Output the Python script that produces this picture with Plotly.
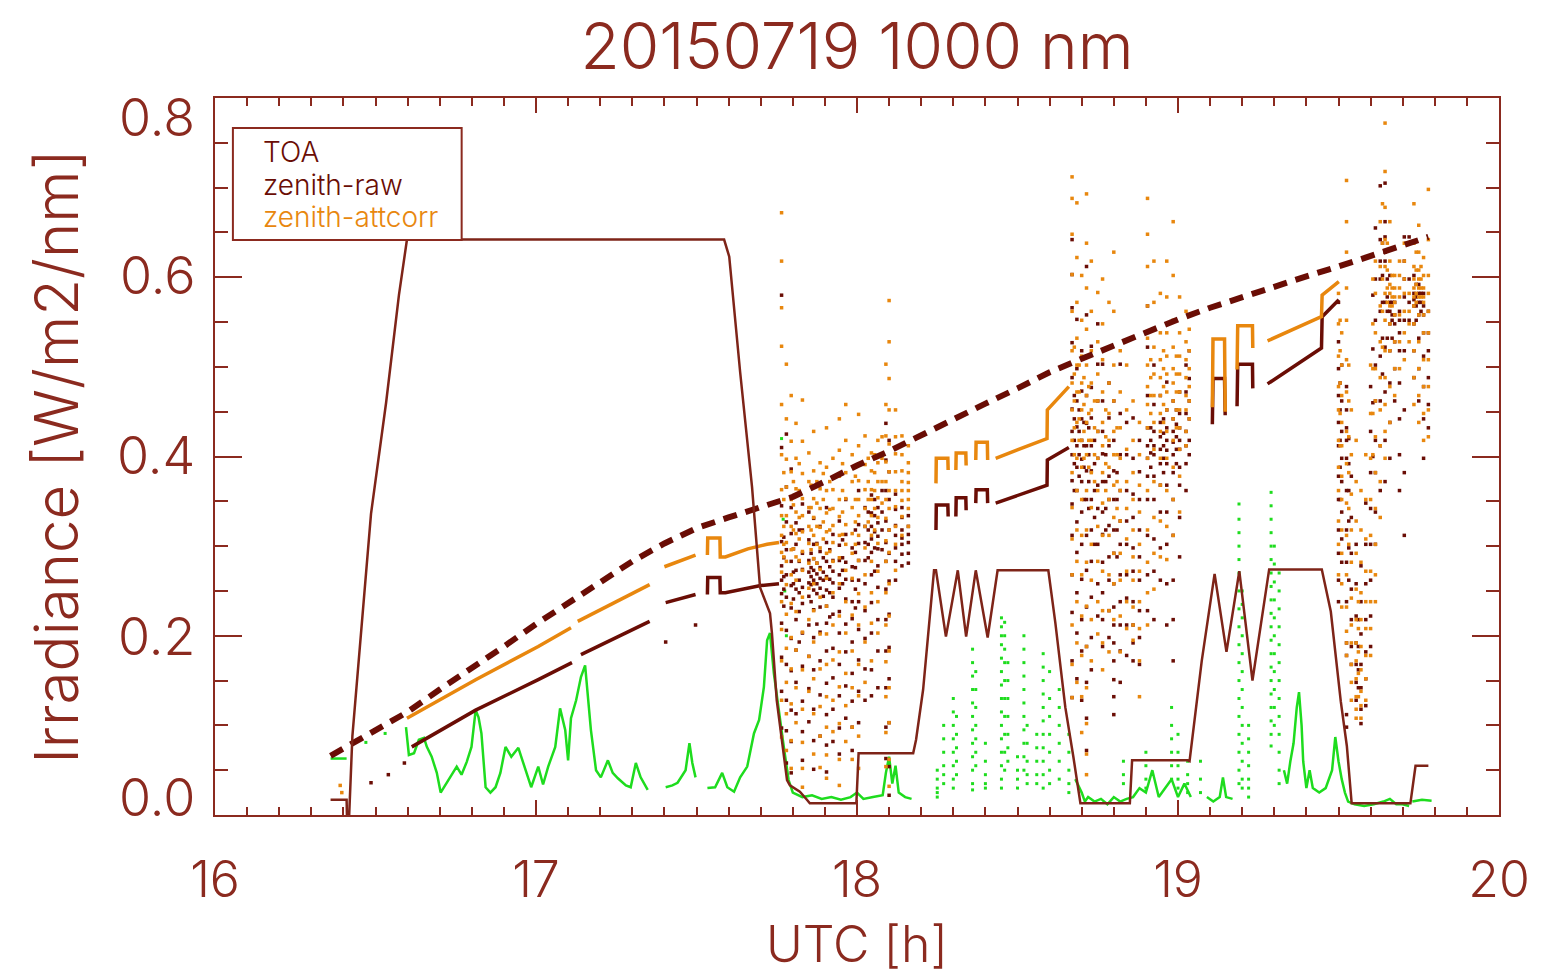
import plotly.graph_objects as go

# ---------------- data ----------------
toa_t = [16.36, 16.45, 16.55, 16.60, 16.70, 16.80, 16.90, 17.00, 17.10, 17.20, 17.30, 17.40,
         17.50, 17.60, 17.70, 17.80, 17.90, 18.00, 18.10, 18.20, 18.30, 18.40, 18.50, 18.60,
         18.70, 18.80, 18.90, 19.00, 19.10, 19.20, 19.30, 19.40, 19.50, 19.60, 19.70, 19.78]
toa_v = [0.066, 0.085, 0.105, 0.115, 0.140, 0.163, 0.188, 0.213, 0.237, 0.260, 0.283, 0.303,
         0.320, 0.332, 0.343, 0.355, 0.372, 0.390, 0.406, 0.424, 0.441, 0.459, 0.476, 0.494,
         0.509, 0.524, 0.539, 0.553, 0.566, 0.578, 0.590, 0.601, 0.612, 0.624, 0.636, 0.645]

# zenith-raw: continuous stretches (None = gap)
raw_line_t = [16.613, 16.812, 17.007, 17.112, None,
              17.14, 17.354, None,
              17.404, 17.497, None,
              17.534, 17.535, 17.573, 17.574, 17.59, 17.70, 17.757, None,
              18.246, 18.247, 18.283, 18.284, None,
              18.308, 18.309, 18.339, 18.340, None,
              18.370, 18.371, 18.406, 18.407, None,
              18.432, 18.592, 18.593, 18.66, None,
              19.107, 19.109, 19.145, 19.147, None,
              19.184, 19.186, 19.232, 19.233, None,
              19.279, 19.447, 19.449, 19.501]
raw_line_v = [0.076, 0.117, 0.151, 0.170, None,
              0.179, 0.216, None,
              0.237, 0.246, None,
              0.246, 0.265, 0.265, 0.248, 0.248, 0.256, 0.258, None,
              0.318, 0.346, 0.346, 0.333, None,
              0.333, 0.354, 0.354, 0.340, None,
              0.348, 0.363, 0.363, 0.348, None,
              0.348, 0.368, 0.396, 0.410, None,
              0.436, 0.487, 0.487, 0.446, None,
              0.456, 0.503, 0.503, 0.476, None,
              0.481, 0.521, 0.556, 0.575]

# zenith-raw: scattered samples, grouped in columns (time, values)
raw_col_t = [16.486, 16.54, 16.59, 17.404, 17.497,
             17.765, 17.78, 17.795, 17.81, 17.83, 17.85, 17.865, 17.885, 17.905, 17.925,
             17.945, 17.965, 17.985, 18.005, 18.025, 18.045, 18.065, 18.09, 18.10, 18.12,
             18.14, 18.16,
             18.67, 18.685, 18.70, 18.715, 18.73, 18.75, 18.765, 18.785, 18.80, 18.82,
             18.84, 18.86, 18.88, 18.905, 18.925, 18.945, 18.965, 18.985, 19.005, 19.025, 19.035,
             19.50, 19.51, 19.525, 19.54, 19.555, 19.57, 19.585, 19.60, 19.615, 19.63,
             19.645, 19.66, 19.675, 19.69, 19.705, 19.72, 19.735, 19.75, 19.765, 19.78]
raw_col_v = [
    [0.036], [0.045], [0.058], [0.193], [0.212],
    [0.58, 0.41, 0.345, 0.305, 0.278, 0.262, 0.247, 0.214, 0.176, 0.138, 0.097],
    [0.425, 0.366, 0.327, 0.296, 0.268, 0.243, 0.206, 0.168, 0.128, 0.094, 0.058],
    [0.386, 0.343, 0.314, 0.283, 0.256, 0.231, 0.197, 0.161, 0.117, 0.082, 0.047],
    [0.357, 0.326, 0.302, 0.273, 0.252, 0.218, 0.184, 0.148, 0.113],
    [0.347, 0.318, 0.292, 0.274, 0.254, 0.236, 0.203, 0.166, 0.127, 0.093, 0.061],
    [0.338, 0.307, 0.284, 0.271, 0.259, 0.244, 0.212, 0.177, 0.141, 0.104],
    [0.331, 0.302, 0.286, 0.273, 0.262, 0.251, 0.229, 0.198, 0.162, 0.118, 0.083, 0.051],
    [0.322, 0.294, 0.276, 0.264, 0.253, 0.232, 0.204, 0.172, 0.134, 0.088],
    [0.343, 0.304, 0.283, 0.266, 0.251, 0.233, 0.214, 0.183, 0.147, 0.112, 0.078, 0.048],
    [0.313, 0.284, 0.272, 0.259, 0.243, 0.224, 0.186, 0.153, 0.118, 0.082],
    [0.328, 0.301, 0.284, 0.268, 0.253, 0.227, 0.203, 0.168, 0.133, 0.097, 0.068],
    [0.352, 0.313, 0.282, 0.263, 0.241, 0.213, 0.182, 0.144, 0.108],
    [0.298, 0.277, 0.262, 0.238, 0.219, 0.193, 0.158, 0.127, 0.098, 0.072],
    [0.362, 0.324, 0.303, 0.284, 0.262, 0.238, 0.207, 0.173, 0.138, 0.103],
    [0.343, 0.322, 0.304, 0.284, 0.258, 0.228, 0.197, 0.163, 0.128],
    [0.357, 0.337, 0.322, 0.308, 0.293, 0.268, 0.237, 0.203, 0.162, 0.133],
    [0.343, 0.326, 0.311, 0.297, 0.278, 0.254, 0.218, 0.183, 0.142],
    [0.437, 0.396, 0.362, 0.328, 0.304, 0.283, 0.252, 0.218, 0.183, 0.142, 0.098, 0.063],
    [0.418, 0.383, 0.352, 0.318, 0.292, 0.261, 0.224, 0.187, 0.152, 0.103, 0.054, 0.022],
    [0.358, 0.341, 0.323, 0.312, 0.298, 0.283, 0.262],
    [0.343, 0.332, 0.318, 0.309, 0.302, 0.291, 0.278],
    [0.334, 0.322, 0.313, 0.304, 0.292, 0.281],
    [0.642, 0.603, 0.566, 0.527, 0.488, 0.453, 0.428, 0.402, 0.373, 0.347, 0.312, 0.268, 0.226, 0.172, 0.131],
    [0.553, 0.498, 0.462, 0.433, 0.412, 0.388, 0.362, 0.327, 0.293, 0.248, 0.203, 0.152],
    [0.518, 0.473, 0.442, 0.418, 0.397, 0.372, 0.338, 0.302, 0.263, 0.218, 0.183, 0.128],
    [0.612, 0.558, 0.512, 0.468, 0.437, 0.412, 0.384, 0.352, 0.312, 0.273, 0.232, 0.188, 0.148, 0.108, 0.072],
    [0.523, 0.477, 0.443, 0.412, 0.384, 0.352, 0.318, 0.283, 0.243, 0.198, 0.162],
    [0.548, 0.503, 0.462, 0.428, 0.398, 0.368, 0.342, 0.302, 0.258, 0.222],
    [0.503, 0.462, 0.428, 0.403, 0.372, 0.338, 0.313, 0.282, 0.248, 0.218, 0.188],
    [0.482, 0.443, 0.412, 0.378, 0.352, 0.323, 0.288, 0.262, 0.228, 0.198],
    [0.462, 0.418, 0.384, 0.352, 0.318, 0.292, 0.258, 0.232, 0.212, 0.192, 0.172, 0.151, 0.132, 0.112],
    [0.503, 0.448, 0.402, 0.362, 0.328, 0.302, 0.268, 0.238, 0.212, 0.183, 0.148],
    [0.438, 0.402, 0.362, 0.328, 0.302, 0.268, 0.242, 0.212, 0.178],
    [0.443, 0.398, 0.358, 0.332, 0.298, 0.272, 0.238, 0.212, 0.192, 0.172],
    [0.418, 0.383, 0.352, 0.318, 0.288, 0.262, 0.228, 0.198, 0.168],
    [0.568, 0.522, 0.468, 0.432, 0.412, 0.398, 0.378, 0.352, 0.312, 0.268, 0.228],
    [0.502, 0.458, 0.428, 0.412, 0.402, 0.378, 0.352, 0.308, 0.272, 0.218],
    [0.468, 0.438, 0.422, 0.408, 0.392, 0.368, 0.338, 0.298, 0.262],
    [0.483, 0.452, 0.432, 0.418, 0.407, 0.392, 0.368, 0.338, 0.302, 0.258, 0.212],
    [0.462, 0.442, 0.428, 0.416, 0.402, 0.382, 0.352, 0.312, 0.262, 0.218, 0.172],
    [0.472, 0.448, 0.432, 0.418, 0.408, 0.388, 0.368, 0.332, 0.288],
    [0.502, 0.472, 0.448, 0.428, 0.412, 0.392, 0.362],
    [0.518, 0.487, 0.462, 0.442, 0.418, 0.402],
    [0.572, 0.528, 0.498, 0.468, 0.438, 0.412, 0.378, 0.352, 0.318, 0.292, 0.262, 0.238],
    [0.502, 0.462, 0.428, 0.398, 0.372, 0.338, 0.308, 0.282],
    [0.478, 0.452, 0.432, 0.418, 0.398, 0.362, 0.318, 0.282, 0.238, 0.192, 0.178, 0.112, 0.098],
    [0.378, 0.332, 0.292, 0.252, 0.218, 0.188, 0.168],
    [0.302, 0.258, 0.222, 0.192, 0.168, 0.148, 0.128],
    [0.278, 0.238, 0.202, 0.168, 0.142, 0.118, 0.102],
    [0.348, 0.302, 0.258, 0.218, 0.182, 0.152, 0.122],
    [0.478, 0.428, 0.382, 0.342, 0.302, 0.262, 0.222, 0.188],
    [0.655, 0.598, 0.552, 0.502, 0.462, 0.418, 0.382, 0.338, 0.302],
    [0.702, 0.642, 0.618, 0.598, 0.562, 0.512, 0.462, 0.412, 0.362],
    [0.705, 0.662, 0.645, 0.628, 0.618, 0.572, 0.522, 0.472, 0.418, 0.372],
    [0.602, 0.572, 0.562, 0.548, 0.518, 0.482, 0.438, 0.398],
    [0.572, 0.558, 0.548, 0.528, 0.498, 0.462],
    [0.562, 0.552, 0.538, 0.518, 0.482, 0.442, 0.402, 0.362],
    [0.645, 0.618, 0.598, 0.578, 0.552, 0.518, 0.452, 0.382, 0.312],
    [0.645, 0.598, 0.572, 0.552],
    [0.602, 0.582, 0.575, 0.568, 0.548, 0.518, 0.488],
    [0.592, 0.582, 0.572, 0.558, 0.532, 0.498, 0.462],
    [0.582, 0.568, 0.558, 0.538, 0.512, 0.478, 0.442, 0.398],
    [0.562, 0.538, 0.518, 0.488, 0.458, 0.432],
]
# zenith-raw: extra samples in the densest parts of the clouds
raw_fill_t = [17.772, 17.802, 17.82, 17.857, 17.875, 17.895, 17.915, 17.955, 17.995, 18.035,
              18.055, 18.078,
              18.677, 18.692, 18.707, 18.722, 18.74, 18.775, 18.81, 18.915, 18.955, 18.995,
              19.505, 19.532, 19.562, 19.607, 19.637, 19.652, 19.667, 19.742, 19.757]
raw_fill_v = [
    [0.31, 0.287, 0.266, 0.252, 0.233],
    [0.297, 0.271, 0.258, 0.241],
    [0.318, 0.283, 0.262, 0.248, 0.227, 0.193],
    [0.292, 0.276, 0.266, 0.257, 0.238],
    [0.303, 0.281, 0.269, 0.258, 0.247, 0.213],
    [0.287, 0.271, 0.262, 0.244],
    [0.296, 0.277, 0.263, 0.248, 0.221],
    [0.307, 0.287, 0.273, 0.258],
    [0.318, 0.293, 0.276, 0.252, 0.231],
    [0.338, 0.318, 0.302, 0.287],
    [0.352, 0.334, 0.316, 0.298, 0.272],
    [0.362, 0.338, 0.318, 0.296],
    [0.468, 0.442, 0.418, 0.392, 0.362],
    [0.452, 0.428, 0.402, 0.378],
    [0.438, 0.412, 0.388, 0.352],
    [0.432, 0.402, 0.372, 0.342],
    [0.418, 0.392, 0.362, 0.332, 0.302],
    [0.402, 0.372, 0.342, 0.318],
    [0.382, 0.352, 0.318, 0.288],
    [0.432, 0.418, 0.404, 0.388],
    [0.442, 0.426, 0.412, 0.398, 0.382],
    [0.452, 0.436, 0.422, 0.408, 0.392],
    [0.482, 0.452, 0.418, 0.388, 0.352],
    [0.42, 0.392, 0.362, 0.328, 0.298, 0.262],
    [0.218, 0.188, 0.162, 0.142],
    [0.58, 0.52, 0.46, 0.40],
    [0.638, 0.602, 0.572, 0.532, 0.492],
    [0.598, 0.578, 0.562, 0.532],
    [0.572, 0.558, 0.552, 0.532],
    [0.592, 0.578, 0.568, 0.552],
    [0.582, 0.572, 0.562],
]

# zenith-attcorr: continuous stretches
att_line_t = [16.598, 16.812, 17.007, 17.109, None,
              17.13, 17.354, None,
              17.40, 17.497, None,
              17.534, 17.535, 17.573, 17.574, 17.59, 17.66, 17.72, 17.757, None,
              18.246, 18.247, 18.283, 18.284, None,
              18.308, 18.309, 18.339, 18.340, None,
              18.370, 18.371, 18.406, 18.407, None,
              18.432, 18.592, 18.593, 18.66, None,
              19.107, 19.109, 19.145, 19.147, None,
              19.184, 19.186, 19.232, 19.233, None,
              19.279, 19.447, 19.449, 19.501]
att_line_v = [0.108, 0.151, 0.188, 0.209, None,
              0.216, 0.257, None,
              0.277, 0.290, None,
              0.290, 0.309, 0.309, 0.288, 0.288, 0.297, 0.302, 0.304, None,
              0.370, 0.398, 0.398, 0.385, None,
              0.385, 0.404, 0.404, 0.390, None,
              0.396, 0.416, 0.416, 0.396, None,
              0.398, 0.420, 0.452, 0.478, None,
              0.455, 0.531, 0.531, 0.450, None,
              0.497, 0.546, 0.546, 0.521, None,
              0.529, 0.556, 0.580, 0.595]

att_col_t = [16.39, 16.395,
             17.765, 17.78, 17.795, 17.81, 17.83, 17.85, 17.865, 17.885, 17.905, 17.925,
             17.945, 17.965, 17.985, 18.005, 18.025, 18.045, 18.065, 18.09, 18.10, 18.12,
             18.14, 18.16,
             18.67, 18.685, 18.70, 18.715, 18.73, 18.75, 18.765, 18.785, 18.80, 18.82,
             18.84, 18.86, 18.88, 18.905, 18.925, 18.945, 18.965, 18.985, 19.005, 19.025, 19.035,
             19.50, 19.51, 19.525, 19.54, 19.555, 19.57, 19.585, 19.60, 19.615, 19.63,
             19.645, 19.66, 19.675, 19.69, 19.705, 19.72, 19.735, 19.75, 19.765, 19.78]
att_col_v = [
    [0.033], [0.025],
    [0.672, 0.618, 0.566, 0.523, 0.458, 0.402, 0.363, 0.334, 0.312, 0.293, 0.271, 0.238, 0.207, 0.172, 0.128, 0.087],
    [0.503, 0.442, 0.397, 0.366, 0.334, 0.304, 0.283, 0.257, 0.224, 0.186, 0.148, 0.113, 0.072],
    [0.468, 0.417, 0.383, 0.352, 0.322, 0.296, 0.268, 0.236, 0.198, 0.163, 0.124, 0.083, 0.052],
    [0.437, 0.398, 0.364, 0.338, 0.314, 0.288, 0.262, 0.227, 0.184, 0.142, 0.103],
    [0.463, 0.417, 0.381, 0.353, 0.334, 0.316, 0.294, 0.273, 0.243, 0.204, 0.162, 0.118, 0.081, 0.052, 0.031],
    [0.404, 0.372, 0.343, 0.322, 0.303, 0.281, 0.253, 0.218, 0.177, 0.138],
    [0.428, 0.384, 0.353, 0.332, 0.312, 0.286, 0.258, 0.228, 0.193, 0.152, 0.113, 0.068],
    [0.393, 0.364, 0.342, 0.321, 0.298, 0.274, 0.243, 0.202, 0.163, 0.121, 0.088, 0.053],
    [0.432, 0.388, 0.362, 0.337, 0.316, 0.292, 0.264, 0.233, 0.202, 0.168, 0.132, 0.098, 0.067, 0.041],
    [0.398, 0.363, 0.342, 0.323, 0.304, 0.283, 0.248, 0.212, 0.173, 0.128, 0.093],
    [0.442, 0.407, 0.378, 0.352, 0.333, 0.312, 0.287, 0.258, 0.222, 0.182, 0.143, 0.102, 0.062, 0.033],
    [0.458, 0.418, 0.382, 0.353, 0.324, 0.302, 0.273, 0.238, 0.203, 0.158, 0.122, 0.082],
    [0.402, 0.372, 0.343, 0.314, 0.292, 0.264, 0.223, 0.183, 0.142, 0.098, 0.062],
    [0.447, 0.412, 0.373, 0.352, 0.334, 0.312, 0.284, 0.247, 0.212, 0.168, 0.133, 0.088, 0.052],
    [0.423, 0.391, 0.363, 0.342, 0.322, 0.298, 0.268, 0.232, 0.193, 0.148],
    [0.404, 0.384, 0.363, 0.352, 0.334, 0.312, 0.283, 0.248, 0.214, 0.172],
    [0.418, 0.393, 0.372, 0.354, 0.332, 0.303, 0.272, 0.238, 0.203],
    [0.503, 0.458, 0.423, 0.394, 0.372, 0.352, 0.331, 0.306, 0.283, 0.248, 0.212, 0.171, 0.132, 0.092, 0.054],
    [0.574, 0.528, 0.487, 0.452, 0.414, 0.383, 0.362, 0.342, 0.318, 0.293, 0.258, 0.222, 0.183, 0.142, 0.103, 0.062, 0.032],
    [0.452, 0.422, 0.403, 0.383, 0.362, 0.344, 0.322, 0.302, 0.273],
    [0.423, 0.402, 0.384, 0.372, 0.362, 0.351, 0.333, 0.312],
    [0.412, 0.393, 0.382, 0.371, 0.362, 0.352, 0.342, 0.322],
    [0.712, 0.688, 0.648, 0.603, 0.562, 0.518, 0.482, 0.452, 0.418, 0.382, 0.343, 0.308, 0.268, 0.212, 0.168, 0.131],
    [0.683, 0.622, 0.572, 0.532, 0.502, 0.472, 0.438, 0.398, 0.362, 0.318, 0.283, 0.238, 0.192, 0.148],
    [0.602, 0.552, 0.512, 0.482, 0.452, 0.418, 0.388, 0.352, 0.312, 0.268, 0.222, 0.178, 0.132, 0.092],
    [0.693, 0.638, 0.588, 0.542, 0.502, 0.468, 0.438, 0.402, 0.362, 0.318, 0.282, 0.233, 0.188, 0.142, 0.102, 0.068, 0.045],
    [0.618, 0.562, 0.518, 0.482, 0.452, 0.418, 0.382, 0.343, 0.302, 0.262, 0.218, 0.172],
    [0.583, 0.528, 0.492, 0.462, 0.428, 0.398, 0.362, 0.322, 0.283, 0.238, 0.202],
    [0.598, 0.548, 0.508, 0.472, 0.438, 0.412, 0.382, 0.348, 0.312, 0.272, 0.228, 0.192, 0.162],
    [0.572, 0.522, 0.482, 0.448, 0.418, 0.388, 0.352, 0.312, 0.268, 0.228, 0.182],
    [0.628, 0.562, 0.502, 0.462, 0.428, 0.402, 0.368, 0.332, 0.292, 0.258, 0.218],
    [0.518, 0.472, 0.432, 0.398, 0.362, 0.328, 0.292, 0.262, 0.222, 0.182],
    [0.502, 0.452, 0.408, 0.372, 0.342, 0.308, 0.272, 0.238, 0.208],
    [0.462, 0.418, 0.382, 0.352, 0.318, 0.288, 0.262, 0.232, 0.212, 0.195],
    [0.438, 0.402, 0.368, 0.338, 0.302, 0.272, 0.238, 0.208, 0.172, 0.132],
    [0.688, 0.648, 0.612, 0.568, 0.532, 0.502, 0.478, 0.458, 0.432, 0.398, 0.362, 0.318, 0.282, 0.248, 0.212],
    [0.618, 0.572, 0.522, 0.492, 0.468, 0.438, 0.408, 0.372, 0.332, 0.292, 0.252],
    [0.582, 0.538, 0.508, 0.488, 0.468, 0.448, 0.428, 0.398, 0.368, 0.328, 0.288],
    [0.618, 0.578, 0.538, 0.512, 0.492, 0.472, 0.452, 0.428, 0.398, 0.362, 0.322, 0.285],
    [0.662, 0.602, 0.552, 0.522, 0.498, 0.482, 0.462, 0.442, 0.418, 0.388, 0.352, 0.312],
    [0.578, 0.538, 0.512, 0.492, 0.472, 0.452, 0.432, 0.408, 0.378, 0.338],
    [0.562, 0.528, 0.508, 0.488, 0.468, 0.452, 0.428, 0.412],
    [0.542, 0.518, 0.498, 0.478, 0.462, 0.442],
    [0.582, 0.548, 0.512, 0.478, 0.452, 0.418, 0.388, 0.362, 0.328, 0.302, 0.268],
    [0.538, 0.502, 0.468, 0.438, 0.412, 0.378, 0.352, 0.318, 0.292, 0.258, 0.232],
    [0.708, 0.662, 0.628, 0.588, 0.552, 0.508, 0.472, 0.428, 0.392, 0.348, 0.312, 0.268, 0.232, 0.205, 0.192, 0.178],
    [0.452, 0.402, 0.358, 0.318, 0.282, 0.242, 0.212, 0.192, 0.168, 0.148, 0.128],
    [0.418, 0.372, 0.328, 0.292, 0.252, 0.218, 0.192, 0.172, 0.152, 0.132, 0.118, 0.108],
    [0.362, 0.318, 0.282, 0.248, 0.218, 0.188, 0.162, 0.138, 0.122, 0.108],
    [0.402, 0.352, 0.308, 0.272, 0.238, 0.208, 0.178, 0.152, 0.128],
    [0.502, 0.448, 0.398, 0.352, 0.312, 0.272, 0.238, 0.208, 0.178],
    [0.618, 0.582, 0.538, 0.498, 0.462, 0.422, 0.382, 0.342, 0.302, 0.268, 0.238],
    [0.662, 0.612, 0.568, 0.528, 0.488, 0.452, 0.412, 0.372, 0.332],
    [0.772, 0.718, 0.678, 0.642, 0.612, 0.582, 0.552, 0.518, 0.488, 0.458, 0.428, 0.398],
    [0.662, 0.618, 0.592, 0.582, 0.568, 0.548, 0.518, 0.478, 0.438],
    [0.602, 0.588, 0.578, 0.572, 0.558, 0.528, 0.498, 0.468],
    [0.618, 0.602, 0.588, 0.578, 0.558, 0.528, 0.498],
    [0.638, 0.618, 0.598, 0.582, 0.562, 0.538, 0.508],
    [0.582, 0.562, 0.548, 0.528],
    [0.682, 0.638, 0.612, 0.598, 0.588, 0.578, 0.568, 0.548, 0.518, 0.488, 0.458],
    [0.658, 0.628, 0.608, 0.598, 0.588, 0.578, 0.558, 0.528, 0.498, 0.468, 0.438],
    [0.622, 0.602, 0.588, 0.578, 0.572, 0.558, 0.538, 0.508, 0.478, 0.448, 0.418],
    [0.698, 0.642, 0.602, 0.582, 0.562, 0.538, 0.508, 0.478, 0.452, 0.422],
]
att_fill_t = [17.772, 17.802, 17.82, 17.857, 17.875, 17.895, 17.915, 17.955, 17.995, 18.035,
              18.055, 18.078,
              18.677, 18.692, 18.707, 18.722, 18.74, 18.775, 18.81, 18.915, 18.955, 18.995,
              19.505, 19.532, 19.562, 19.607, 19.637, 19.652, 19.667, 19.742, 19.757]
att_fill_v = [
    [0.382, 0.352, 0.322, 0.302, 0.288],
    [0.372, 0.346, 0.318, 0.297],
    [0.392, 0.362, 0.332, 0.308, 0.284],
    [0.368, 0.343, 0.318, 0.296],
    [0.372, 0.348, 0.322, 0.302, 0.281],
    [0.381, 0.352, 0.327, 0.308],
    [0.372, 0.341, 0.318, 0.294],
    [0.392, 0.362, 0.338, 0.313],
    [0.378, 0.352, 0.327, 0.302],
    [0.398, 0.372, 0.352, 0.327],
    [0.402, 0.382, 0.362, 0.342, 0.318],
    [0.422, 0.398, 0.372, 0.348],
    [0.522, 0.492, 0.462, 0.432, 0.402],
    [0.502, 0.472, 0.442, 0.418],
    [0.488, 0.458, 0.428, 0.398],
    [0.478, 0.448, 0.418, 0.388],
    [0.462, 0.432, 0.402, 0.372],
    [0.452, 0.422, 0.392, 0.362],
    [0.432, 0.402, 0.372, 0.342],
    [0.508, 0.488, 0.468, 0.448],
    [0.518, 0.498, 0.478, 0.458, 0.438],
    [0.512, 0.492, 0.472, 0.452, 0.432],
    [0.552, 0.518, 0.482, 0.448, 0.412],
    [0.502, 0.462, 0.422, 0.382, 0.342, 0.302],
    [0.238, 0.208, 0.182, 0.158, 0.132],
    [0.598, 0.548, 0.498, 0.448, 0.402],
    [0.682, 0.638, 0.598, 0.562, 0.522],
    [0.638, 0.608, 0.588, 0.572],
    [0.602, 0.588, 0.578, 0.568],
    [0.628, 0.608, 0.592, 0.582, 0.572],
    [0.612, 0.598, 0.588, 0.578],
]

# green (unlabelled) series: line part
green_t = [16.36, 16.41, None,
           16.595, 16.604, 16.62, 16.635, 16.651, 16.66, 16.675, 16.691, 16.703, 16.719,
           16.737, 16.753, 16.768, 16.784, 16.799, 16.812, 16.821, 16.83, 16.843, 16.858,
           16.874, 16.889, 16.905, 16.923, 16.945, 16.967, 16.985, 17.007, 17.022, 17.038,
           17.06, 17.075, 17.091, 17.10, 17.109, 17.125, 17.14, 17.153, 17.162, 17.171,
           17.187, 17.202, 17.224, 17.239, 17.255, 17.28, 17.295, 17.311, 17.326, 17.348, None,
           17.404, 17.425, 17.441, 17.466, 17.478, 17.487, 17.497, None,
           17.534, 17.558, 17.58, 17.596, 17.617, 17.636, 17.658, 17.679, 17.695, 17.71,
           17.72, 17.729, 17.741, 17.757, 17.772, 17.787, 17.80, 17.83, 17.86, 17.89, 17.92,
           17.95, 17.98, 18.00, 18.02, 18.05, 18.08, 18.09, 18.10, 18.11, 18.12, 18.13,
           18.15, 18.17, None,
           18.68, 18.70, 18.71, 18.72, 18.74, 18.76, 18.78, 18.80, 18.82, 18.84, 18.86,
           18.88, 18.90, 18.92, 18.94, 18.96, 18.98, 19.00, 19.02, 19.04, None,
           19.09, 19.11, 19.13, 19.14, 19.15, 19.17, None,
           19.33, 19.34, 19.35, 19.36, 19.37, 19.377, 19.385, 19.39, 19.40, 19.41, 19.42,
           19.44, 19.46, 19.48, 19.49, 19.50, 19.51, 19.52, 19.53, 19.55, 19.58, 19.61,
           19.64, 19.66, 19.68, 19.70, 19.72, None,
           19.73, 19.76, 19.79]
green_v = [0.063, 0.063, None,
           0.098, 0.067, 0.069, 0.084, 0.086, 0.076, 0.065, 0.047, 0.025, 0.034,
           0.045, 0.054, 0.045, 0.059, 0.076, 0.117, 0.109, 0.091, 0.031, 0.025,
           0.031, 0.047, 0.076, 0.065, 0.075, 0.050, 0.031, 0.054, 0.034, 0.054,
           0.076, 0.119, 0.095, 0.061, 0.108, 0.128, 0.154, 0.167, 0.128, 0.095,
           0.050, 0.042, 0.061, 0.047, 0.041, 0.033, 0.031, 0.058, 0.042, 0.028, None,
           0.031, 0.033, 0.036, 0.050, 0.080, 0.058, 0.042, None,
           0.030, 0.031, 0.047, 0.031, 0.026, 0.042, 0.054, 0.091, 0.106, 0.143,
           0.195, 0.203, 0.158, 0.114, 0.076, 0.039, 0.025, 0.020, 0.022, 0.018, 0.020,
           0.017, 0.020, 0.025, 0.018, 0.020, 0.022, 0.047, 0.065, 0.035, 0.055, 0.025,
           0.020, 0.018, None,
           0.040, 0.025, 0.015, 0.020, 0.015, 0.018, 0.012, 0.020, 0.015, 0.018, 0.020,
           0.030, 0.025, 0.050, 0.020, 0.030, 0.040, 0.020, 0.035, 0.020, None,
           0.020, 0.015, 0.020, 0.042, 0.020, 0.018, None,
           0.050, 0.035, 0.060, 0.080, 0.120, 0.137, 0.100, 0.060, 0.030, 0.050, 0.030,
           0.025, 0.030, 0.050, 0.087, 0.060, 0.040, 0.025, 0.015, 0.012, 0.010, 0.012,
           0.015, 0.018, 0.012, 0.012, 0.010, None,
           0.015, 0.017, 0.016]

# green: dotted columns
green_col_t = [16.47, 16.53, 17.765, 17.77, 17.775, 17.78,
               18.25, 18.27, 18.30, 18.31, 18.36, 18.37, 18.40, 18.45, 18.46, 18.47, 18.50,
               18.52, 18.53, 18.56, 18.58, 18.60, 18.63, 18.66, 18.83, 18.90, 18.98, 19.00,
               19.03, 19.07, 19.19, 19.20, 19.22, 19.29, 19.30, 19.315]
green_col_v = [
    [0.081], [0.091], [0.42], [0.33], [0.25], [0.20],
    [0.05, 0.04, 0.03, 0.025, 0.02],
    [0.10, 0.085, 0.07, 0.055, 0.045, 0.035],
    [0.13, 0.115, 0.10, 0.085, 0.07, 0.055, 0.04, 0.03],
    [0.11, 0.09, 0.075, 0.06, 0.045],
    [0.185, 0.17, 0.155, 0.14, 0.125, 0.11, 0.095, 0.08, 0.065, 0.05, 0.035, 0.028],
    [0.16, 0.14, 0.12, 0.10, 0.085, 0.07, 0.055],
    [0.08, 0.06, 0.045, 0.035, 0.03],
    [0.22, 0.21, 0.20, 0.19, 0.175, 0.16, 0.145, 0.13, 0.115, 0.10, 0.085, 0.07, 0.055, 0.04, 0.03],
    [0.215, 0.20, 0.185, 0.17, 0.15, 0.13, 0.11, 0.09, 0.07, 0.05],
    [0.17, 0.15, 0.13, 0.11, 0.09, 0.075, 0.06],
    [0.065, 0.05, 0.04, 0.03],
    [0.20, 0.185, 0.17, 0.155, 0.14, 0.125, 0.11, 0.095, 0.08, 0.065, 0.05],
    [0.10, 0.08, 0.06, 0.045, 0.035],
    [0.09, 0.075, 0.06, 0.045, 0.035],
    [0.18, 0.165, 0.15, 0.135, 0.12, 0.105, 0.09, 0.075, 0.06, 0.045, 0.03],
    [0.16, 0.13, 0.11, 0.09, 0.07, 0.05, 0.035],
    [0.14, 0.12, 0.10, 0.08, 0.06, 0.04],
    [0.09, 0.07, 0.05, 0.035, 0.025],
    [0.06, 0.045, 0.035],
    [0.07, 0.055, 0.04, 0.03],
    [0.12, 0.10, 0.085, 0.07, 0.055, 0.04],
    [0.09, 0.07, 0.055, 0.04, 0.03],
    [0.06, 0.045, 0.035, 0.025],
    [0.06, 0.04, 0.025],
    [0.347, 0.33, 0.315, 0.30, 0.285, 0.27, 0.25, 0.23, 0.21, 0.19, 0.17, 0.15, 0.13, 0.11, 0.09, 0.07, 0.05, 0.035],
    [0.25, 0.235, 0.22, 0.20, 0.18, 0.16, 0.14, 0.12, 0.10, 0.08, 0.06, 0.04, 0.03],
    [0.10, 0.085, 0.07, 0.055, 0.04, 0.03, 0.02],
    [0.36, 0.345, 0.33, 0.315, 0.30, 0.285, 0.27, 0.255, 0.24, 0.225, 0.21, 0.195, 0.18, 0.165, 0.15, 0.135, 0.12, 0.105, 0.09, 0.077],
    [0.30, 0.28, 0.26, 0.24, 0.22, 0.20, 0.18, 0.16, 0.14, 0.12, 0.10],
    [0.27, 0.25, 0.23, 0.21, 0.19, 0.17, 0.15, 0.13, 0.11, 0.09, 0.07, 0.05, 0.035],
]

# brown trapezoid-like trace
alt_t = [16.36, 16.41, 16.411, 16.418, 16.428, 16.486, 16.533, 16.573, 16.598, 17.586,
         17.602, 17.636, 17.673, 17.698, 17.729, 17.735, 17.75, 17.766, 17.782, 17.791,
         17.822, 17.844, 17.853, 17.998, 18.005, 18.175, 18.184, 18.206, 18.225, 18.24,
         18.246, 18.277, 18.314, 18.34, 18.37, 18.407, 18.438, 18.596, 18.618, 18.649,
         18.674, 18.696, 18.85, 18.857, 19.03, 19.036, 19.074, 19.114, 19.151, 19.191,
         19.232, 19.284, 19.448, 19.476, 19.507, 19.526, 19.541, 19.724, 19.74, 19.78]
alt_v = [0.017, 0.017, 0.0, 0.0, 0.088, 0.336, 0.46, 0.58, 0.642, 0.642,
         0.623, 0.494, 0.366, 0.254, 0.225, 0.203, 0.128, 0.084, 0.039, 0.033,
         0.026, 0.017, 0.013, 0.013, 0.069, 0.069, 0.084, 0.14, 0.214, 0.273,
         0.273, 0.199, 0.273, 0.199, 0.273, 0.198, 0.273, 0.273, 0.214, 0.12,
         0.065, 0.013, 0.013, 0.061, 0.061, 0.06, 0.172, 0.269, 0.182, 0.272,
         0.15, 0.274, 0.274, 0.227, 0.127, 0.077, 0.013, 0.013, 0.055, 0.055]

title_text = "20150719 1000 nm"
x_title = "UTC [h]"
y_title = "Irradiance [W/m2/nm]"
legend_names = ["TOA", "zenith-raw", "zenith-attcorr"]
x_ticks = [16, 17, 18, 19, 20]
y_ticks = [0.0, 0.2, 0.4, 0.6, 0.8]

# ---------------- style ----------------
AX = "#8B2A1F"
DARK = "#6A0D05"
ALT = "#7E2418"
ORANGE = "#E8870E"
GREEN = "#1EDC1E"
FONT = "Inter, DejaVu Sans"
WEIGHT = 300


def expand(ts, vs):
    xs, ys = [], []
    for t, vals in zip(ts, vs):
        for v in vals:
            xs.append(t)
            ys.append(v)
    return xs, ys


def tfont(size, color=AX):
    return dict(family=FONT, size=size, color=color, weight=WEIGHT)


fig = go.Figure()

gx, gy = expand(green_col_t, green_col_v)
fig.add_trace(go.Scatter(x=green_t, y=green_v, mode="lines",
                         line=dict(color=GREEN, width=2.5), connectgaps=False, hoverinfo="skip"))
fig.add_trace(go.Scatter(x=gx, y=gy, mode="markers",
                         marker=dict(color=GREEN, size=3, symbol="square", line=dict(width=0)),
                         hoverinfo="skip"))

rx, ry = expand(raw_col_t + raw_fill_t, raw_col_v + raw_fill_v)
fig.add_trace(go.Scatter(x=raw_line_t, y=raw_line_v, mode="lines",
                         line=dict(color=DARK, width=3.5), connectgaps=False, hoverinfo="skip"))
fig.add_trace(go.Scatter(x=rx, y=ry, mode="markers",
                         marker=dict(color=DARK, size=3.5, symbol="square", line=dict(width=0)),
                         hoverinfo="skip"))

ax_, ay_ = expand(att_col_t + att_fill_t, att_col_v + att_fill_v)
fig.add_trace(go.Scatter(x=att_line_t, y=att_line_v, mode="lines",
                         line=dict(color=ORANGE, width=3.5), connectgaps=False, hoverinfo="skip"))
fig.add_trace(go.Scatter(x=ax_, y=ay_, mode="markers",
                         marker=dict(color=ORANGE, size=3.5, symbol="square", line=dict(width=0)),
                         hoverinfo="skip"))

fig.add_trace(go.Scatter(x=toa_t, y=toa_v, mode="lines",
                         line=dict(color=DARK, width=6, dash="14px,9px"), hoverinfo="skip"))

fig.add_trace(go.Scatter(x=alt_t, y=alt_v, mode="lines",
                         line=dict(color=ALT, width=2.5), hoverinfo="skip"))

# ---------------- layout ----------------
# the page adds an 8px body margin, so the figure is 8px smaller than the window
OFF = 8
W, H = 1542 - OFF, 978 - OFF
ML, MR, MT, MB = 215 - OFF, 36, 98 - OFF, 163
X0, Y0, Y1 = 215, 98, 815          # plot area in window pixels
X1 = OFF + W - MR


def px_x(px):
    return (px - X0) / (X1 - X0)


def px_y(py):
    return (Y1 - py) / (Y1 - Y0)


fig.update_layout(
    width=W, height=H,
    margin=dict(l=ML, r=MR, t=MT, b=MB, pad=0),
    plot_bgcolor="white", paper_bgcolor="white",
    showlegend=False,
    font=dict(family=FONT, color=AX),
    title=dict(text=title_text, x=0.5, xref="paper", y=1 - (47 - OFF) / H, yref="container",
               xanchor="center", yanchor="middle", font=tfont(64)),
)

fig.update_xaxes(range=[16, 20], tickvals=x_ticks, ticktext=[str(v) for v in x_ticks],
                 ticks="inside", ticklen=15, tickwidth=2, tickcolor=AX,
                 minor=dict(dtick=0.1, tick0=16, ticks="inside", ticklen=8, tickwidth=2, tickcolor=AX),
                 showline=True, linecolor=AX, linewidth=2, mirror="allticks",
                 showgrid=False, zeroline=False, ticklabeloverflow="allow",
                 tickfont=tfont(50), ticklabelstandoff=20)
fig.update_yaxes(range=[0, 0.8], tickvals=y_ticks, showticklabels=False,
                 ticks="inside", ticklen=27, tickwidth=2, tickcolor=AX,
                 minor=dict(dtick=0.05, tick0=0, ticks="inside", ticklen=13, tickwidth=2, tickcolor=AX),
                 showline=True, linecolor=AX, linewidth=2, mirror="allticks",
                 showgrid=False, zeroline=False)

# y tick labels (the end labels sit inside the axis span, as in the original)
y_label_px = [797, 636, 455, 275, 118]
for v, py in zip(y_ticks, y_label_px):
    fig.add_annotation(text="%.1f" % v, xref="paper", yref="paper", x=px_x(197), y=px_y(py),
                       xanchor="right", yanchor="middle", showarrow=False, font=tfont(52))

# axis titles
fig.add_annotation(text=x_title, xref="paper", yref="paper", x=0.5, y=px_y(944),
                   xanchor="center", yanchor="middle", showarrow=False, font=tfont(50))
fig.add_annotation(text=y_title, xref="paper", yref="paper", x=px_x(55), y=px_y(457),
                   xanchor="center", yanchor="middle", textangle=-90, showarrow=False,
                   font=tfont(60))

# legend box (IDL style, text only)
fig.add_shape(type="rect", xref="paper", yref="paper",
              x0=px_x(233), x1=px_x(463), y0=px_y(240), y1=px_y(128),
              line=dict(color=AX, width=2), fillcolor="white", layer="above")
legend_colors = [DARK, DARK, ORANGE]
legend_y = [152, 185, 217]
for name, col, yy in zip(legend_names, legend_colors, legend_y):
    fig.add_annotation(text=name, xref="paper", yref="paper", x=px_x(261), y=px_y(yy),
                       xanchor="left", yanchor="middle", showarrow=False, font=tfont(28, col))

fig.write_html("out.html")
